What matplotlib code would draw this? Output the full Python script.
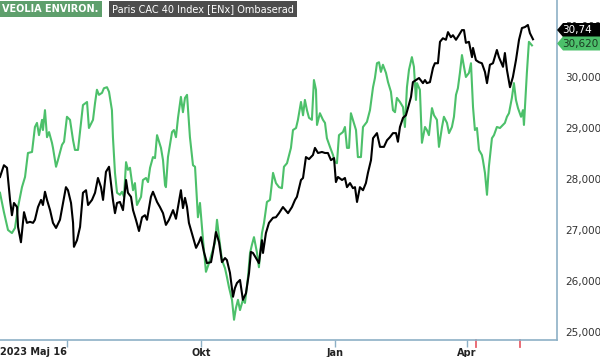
import numpy as np
import matplotlib
matplotlib.use("Agg")
import matplotlib.pyplot as plt
import pandas as pd
from matplotlib.patches import Polygon

# 1. Data (days after 2023-05-16, price in EUR)
start = pd.Timestamp("2023-05-16")

cac_days = [0.0, 2.7, 4.8, 6.9, 8.2, 9.6, 11.7, 12.4, 14.4, 16.5, 18.5, 20.6, 22.7, 24.0, 26.1, 28.2, 29.5, 30.9,
            32.3, 34.4, 36.4, 38.5, 41.2, 43.3, 45.3, 46.7, 48.8, 50.2, 50.8, 52.9, 55.0, 57.0, 59.1, 60.5, 63.2,
            65.3, 67.3, 69.4, 70.8, 72.8, 74.9, 77.6, 79.0, 80.4, 82.4, 84.5, 86.6, 87.9, 90.0, 91.4, 93.4, 95.5,
            97.6, 99.6, 101.0, 103.7, 105.1, 107.9, 109.9, 112.0, 114.0, 116.1, 118.9, 120.9, 122.3, 124.3, 125.7,
            127.1, 128.5, 129.8, 132.6, 134.7, 136.7, 138.1, 140.1, 142.2, 145.0, 146.3, 148.4, 150.5, 152.5,
            154.6, 155.9, 158.0, 160.1, 161.4, 162.8, 164.9, 166.9, 169.0, 171.1, 172.4, 173.8, 175.9, 177.9,
            180.0, 180.7, 182.7, 184.8, 187.6, 189.6, 191.7, 194.4, 197.9, 200.6, 202.7, 204.0, 206.8, 208.2,
            210.2, 212.3, 215.0, 216.4, 218.5, 221.2, 223.3, 225.3, 227.4, 229.5, 230.8, 232.2, 235.0, 237.0,
            238.4, 240.5, 242.5, 243.9, 245.3, 247.3, 249.4, 251.4, 252.8, 254.9, 256.3, 259.0, 261.1, 263.8,
            265.9, 267.9, 270.0, 272.1, 273.4, 274.8, 276.9, 278.9, 280.3, 282.4, 283.7, 285.8, 287.9, 290.6,
            292.0, 293.3, 295.4, 297.5, 298.8, 300.9, 302.3, 304.3, 306.4, 307.8, 309.8, 311.2, 313.3, 315.3,
            317.4, 318.8, 320.1, 322.2, 324.3, 325.0, 327.0, 329.1, 331.1, 333.2, 334.6, 336.6, 338.7, 341.4,
            342.8, 345.6, 346.9, 348.3, 350.4, 352.4, 354.5, 356.6, 358.6, 360.7, 362.7, 364.1, 366.2]
cac_vals = [28.04, 28.27, 28.22, 27.59, 27.29, 27.53, 27.45, 27.06, 26.76, 27.35, 27.14, 27.16, 27.14, 27.20,
            27.45, 27.59, 27.49, 27.75, 27.59, 27.39, 27.14, 27.04, 27.20, 27.53, 27.84, 27.78, 27.53, 27.14,
            26.67, 26.80, 27.06, 27.73, 27.78, 27.49, 27.59, 27.73, 28.02, 27.84, 27.59, 28.14, 28.24, 27.59,
            27.33, 27.53, 27.55, 27.39, 27.98, 27.73, 27.65, 27.39, 27.20, 26.98, 27.25, 27.29, 27.20, 27.65,
            27.75, 27.55, 27.45, 27.33, 27.10, 27.20, 27.39, 27.22, 27.45, 27.78, 27.43, 27.63, 27.45, 27.14,
            26.86, 26.65, 26.76, 26.86, 26.57, 26.35, 26.37, 26.57, 26.96, 26.76, 26.37, 26.45, 26.41, 26.16,
            25.69, 25.86, 25.96, 26.02, 25.63, 25.76, 26.16, 26.57, 26.55, 26.45, 26.35, 26.80, 26.55, 26.94,
            27.14, 27.24, 27.25, 27.33, 27.45, 27.33, 27.45, 27.59, 27.65, 27.98, 28.02, 28.43, 28.39, 28.47,
            28.61, 28.51, 28.53, 28.51, 28.51, 28.37, 28.41, 27.94, 28.04, 27.98, 28.02, 27.84, 27.92, 27.82,
            27.84, 27.55, 27.84, 27.78, 27.92, 28.12, 28.37, 28.80, 28.90, 28.63, 28.63, 28.76, 28.82, 28.90,
            28.90, 28.73, 29.02, 29.20, 29.25, 29.39, 29.61, 29.90, 29.94, 29.98, 29.88, 29.94, 29.88, 29.90,
            30.18, 30.27, 30.27, 30.69, 30.76, 30.73, 30.88, 30.78, 30.82, 30.73, 30.82, 30.92, 30.92, 30.67,
            30.69, 30.39, 30.57, 30.33, 30.29, 30.27, 30.10, 29.88, 30.24, 30.27, 30.53, 30.39, 30.20, 30.47,
            30.14, 29.80, 30.00, 30.33, 30.73, 30.96, 30.98, 31.02, 30.86, 30.74]

veo_days = [0.0, 2.7, 5.5, 8.2, 10.3, 12.4, 15.1, 17.2, 19.2, 22.0, 24.0, 25.4, 26.8, 28.9, 29.5, 30.9, 32.3,
            33.7, 35.7, 36.4, 38.5, 39.8, 42.6, 44.0, 46.0, 48.1, 50.2, 51.5, 53.6, 57.0, 59.8, 61.1, 63.9, 65.3,
            66.6, 68.0, 70.1, 71.4, 73.5, 74.9, 76.9, 77.6, 79.0, 80.4, 82.4, 83.8, 85.2, 86.6, 87.9, 89.3, 91.4,
            92.7, 94.1, 96.9, 98.2, 100.3, 101.7, 103.1, 105.1, 106.5, 107.9, 110.6, 112.0, 113.4, 114.0, 115.4,
            118.2, 119.5, 120.9, 122.3, 124.3, 125.7, 127.1, 128.5, 130.5, 132.6, 134.0, 136.0, 137.4, 139.5,
            141.5, 143.6, 145.6, 147.7, 149.1, 150.5, 152.5, 154.6, 155.9, 157.3, 159.4, 160.8, 162.1, 163.5,
            164.9, 166.9, 168.3, 170.4, 171.8, 173.1, 174.5, 176.6, 177.9, 180.0, 181.4, 183.4, 185.5, 187.6,
            189.6, 191.7, 193.7, 195.1, 197.2, 199.9, 201.3, 203.4, 204.7, 206.8, 208.2, 209.5, 210.9, 212.3,
            214.3, 215.7, 217.1, 217.8, 219.8, 221.9, 223.3, 224.6, 226.7, 228.8, 230.1, 231.5, 232.9, 235.6,
            237.0, 238.4, 239.8, 241.1, 242.5, 244.6, 245.9, 248.0, 249.4, 252.1, 254.2, 256.3, 257.6, 259.0,
            260.4, 261.7, 263.1, 265.2, 266.6, 268.6, 270.0, 271.4, 272.7, 274.8, 276.9, 278.2, 279.6, 281.0,
            283.0, 284.4, 285.8, 286.5, 288.5, 289.9, 292.0, 293.3, 294.7, 296.8, 298.2, 300.2, 301.6, 303.7,
            305.0, 307.1, 308.5, 310.5, 311.9, 313.3, 314.6, 316.0, 317.4, 318.8, 320.1, 322.2, 323.6, 325.0,
            326.3, 327.7, 329.1, 331.1, 331.8, 333.2, 334.6, 335.9, 338.0, 339.4, 341.4, 343.5, 345.6, 346.9,
            348.3, 349.7, 351.7, 353.1, 354.5, 355.9, 358.0, 359.3, 360.0, 362.0, 363.4, 365.5]
veo_vals = [27.73, 27.35, 27.00, 26.94, 27.04, 27.45, 27.84, 28.04, 28.51, 28.53, 29.02, 29.10, 28.86, 29.16,
            28.96, 29.35, 28.82, 28.92, 28.71, 28.61, 28.24, 28.37, 28.67, 28.73, 29.22, 29.16, 28.76, 28.57,
            28.57, 29.45, 29.51, 29.00, 29.16, 29.49, 29.75, 29.65, 29.69, 29.78, 29.80, 29.71, 29.35, 28.82,
            28.12, 27.73, 27.69, 27.75, 27.65, 28.33, 28.18, 28.22, 27.78, 27.92, 27.49, 27.65, 27.98, 28.02,
            27.94, 28.22, 28.43, 28.41, 28.86, 28.61, 28.37, 27.88, 27.84, 28.43, 28.92, 28.96, 28.82, 29.20,
            29.61, 29.31, 29.59, 29.65, 28.82, 28.27, 28.24, 27.25, 27.53, 26.80, 26.18, 26.35, 26.55, 26.75,
            27.20, 26.86, 26.41, 26.25, 26.08, 25.88, 25.63, 25.24, 25.47, 25.63, 25.43, 25.63, 25.57, 26.08,
            26.55, 26.71, 26.86, 26.55, 26.27, 26.94, 27.14, 27.55, 27.59, 28.12, 27.92, 27.84, 27.82, 28.24,
            28.31, 28.61, 28.96, 29.00, 29.16, 29.51, 29.25, 29.55, 29.35, 29.20, 29.16, 29.94, 29.75, 29.06,
            29.29, 29.16, 29.10, 28.80, 28.63, 28.47, 28.33, 28.31, 28.86, 28.92, 29.02, 28.61, 28.61, 29.29,
            29.16, 28.96, 28.43, 28.43, 29.02, 29.12, 29.35, 29.80, 29.98, 30.27, 30.29, 30.10, 30.24, 30.08,
            29.90, 29.71, 29.35, 29.31, 29.59, 29.51, 29.41, 29.02, 29.80, 30.14, 30.39, 30.20, 29.55, 29.88,
            29.75, 28.71, 29.02, 28.96, 28.86, 29.39, 29.25, 29.16, 28.63, 29.02, 29.22, 29.10, 28.90, 29.02,
            29.22, 29.65, 29.78, 30.08, 30.43, 30.20, 30.00, 30.08, 30.27, 29.41, 28.96, 29.00, 28.57, 28.47,
            28.37, 28.12, 27.69, 28.24, 28.80, 28.86, 29.02, 29.00, 29.06, 29.10, 29.22, 29.29, 29.59, 29.88,
            29.55, 29.39, 29.22, 29.35, 29.06, 30.08, 30.69, 30.62]

tick_dates = ["2023-07-01", "2023-10-01", "2024-01-01", "2024-04-01"]
tick_labels = ["", "Okt", "Jan", "Apr"]
event_dates = ["2024-04-07", "2024-05-07"]
yticks = [25, 26, 27, 28, 29, 30, 31]

green = "#4cc06a"
axis_col = "#8db0c6"

# 2. Plot
fig = plt.figure(figsize=(6, 3.57), dpi=100)
ax = fig.add_axes([0, 17 / 357, 557 / 600, 340 / 357])

ax.plot(veo_days, veo_vals, color=green, lw=1.5, zorder=2)
ax.plot(cac_days, cac_vals, color="black", lw=1.5, zorder=3)

ax.set_xlim(0, 382.7)
ax.set_ylim(24.843, 31.51)

for s in ["top", "left"]:
    ax.spines[s].set_visible(False)
ax.spines["bottom"].set_color(axis_col)
ax.spines["right"].set_color(axis_col)
ax.spines["bottom"].set_linewidth(1.2)
ax.spines["right"].set_linewidth(1.2)

tick_pos = [(pd.Timestamp(d) - start).days for d in tick_dates]
ax.set_xticks(tick_pos)
ax.set_xticklabels(tick_labels, fontsize=7, fontweight="bold", color="#222222")
ax.tick_params(axis="x", length=5, width=1, color=axis_col, pad=0.5, direction="out")
ax.text(0, -0.021, "2023 Maj 16", transform=ax.transAxes, fontsize=7, fontweight="bold",
        color="#222222", ha="left", va="top")

for d in event_dates:
    pos = (pd.Timestamp(d) - start).days
    ax.plot([pos, pos], [0, -0.022], color="#e8616b", lw=1.3, transform=ax.get_xaxis_transform(),
            clip_on=False)

ax.yaxis.tick_right()
ax.set_yticks(yticks)
ax.set_yticklabels([f"{v:,.3f}".replace(".", ",") for v in yticks], fontsize=7.5, color="#333333")
ax.tick_params(axis="y", length=0, pad=6)

# end value tags
def tag(ycen, text, face, tcol):
    x0, x1 = 557, 600
    h = 7
    pts = [(x0, ycen), (x0 + 6, ycen + h), (x1, ycen + h), (x1, ycen - h), (x0 + 6, ycen - h)]
    pts = [(px / 600, 1 - py / 357) for px, py in pts]
    fig.patches.append(Polygon(pts, closed=True, facecolor=face, edgecolor="none",
                               transform=fig.transFigure, zorder=5))
    fig.text(562 / 600, 1 - ycen / 357, text, fontsize=7.5, color=tcol, ha="left", va="center", zorder=6)

tag(30, f"{cac_vals[-1]:.2f}".replace(".", ","), "black", "white")
tag(43.5, f"{veo_vals[-1]:.3f}".replace(".", ","), green, "#1a3a22")

# legend boxes
fig.text(2 / 600, 1 - 9 / 357, "VEOLIA ENVIRON.", fontsize=7, fontweight="bold", color="white",
         ha="left", va="center",
         bbox=dict(boxstyle="square,pad=0.35", facecolor="#5e9f6c", edgecolor="none"))
fig.text(112 / 600, 1 - 9 / 357, "Paris CAC 40 Index [ENx] Ombaserad", fontsize=7, color="white",
         ha="left", va="center",
         bbox=dict(boxstyle="square,pad=0.35", facecolor="#4d4d4d", edgecolor="none"))

fig.savefig("out.png", dpi=100)
